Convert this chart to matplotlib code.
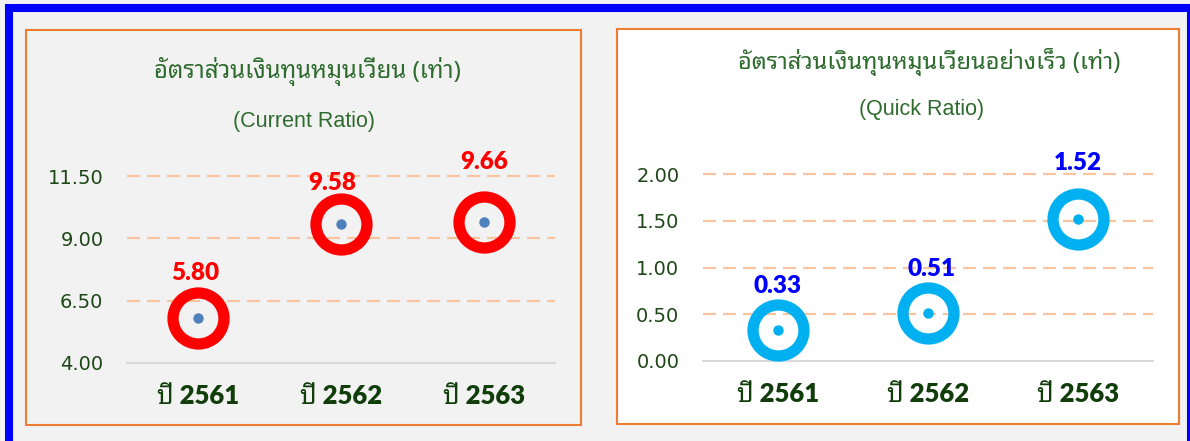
import matplotlib
matplotlib.use('Agg')
import matplotlib.pyplot as plt
from matplotlib.patches import Rectangle

# data
years = ['ปี 2561', 'ปี 2562', 'ปี 2563']
current_ratio = [5.80, 9.58, 9.66]
quick_ratio = [0.33, 0.51, 1.52]
current_ticks = [4.00, 6.50, 9.00, 11.50]
quick_ticks = [0.00, 0.50, 1.00, 1.50, 2.00]
# label offsets (pixels) as placed in the original
current_off = [(-3, 45), (-9, 41), (0, 60)]
quick_off = [(0, 44), (4, 44), (0, 56)]

plt.rcParams['lines.scale_dashes'] = False
W, H = 1190, 441
fig = plt.figure(figsize=(W / 100, H / 100), dpi=100, facecolor='#f2f2f2')

def box(x0, y0, x1, y1, **kw):
    # pixel box (top-left origin) -> figure fraction
    r = Rectangle((x0 / W, 1 - y1 / H), (x1 - x0) / W, (y1 - y0) / H,
                  transform=fig.transFigure, zorder=-5, **kw)
    fig.patches.append(r)

box(9, 8, 1190.5, 443, fill=False, edgecolor='#0000ff', linewidth=5.8)
box(26, 30, 581, 425, facecolor='#f2f2f2', edgecolor='#ed7d31', linewidth=1.5)
box(617, 29, 1179, 424, facecolor='white', edgecolor='#ed7d31', linewidth=1.5)

thai = ['Noto Sans Thai Looped', 'Liberation Sans']
title_col = '#2e6b2e'
fig.text(307 / W, 1 - 72 / H, 'อัตราส่วนเงินทุนหมุนเวียน (เท่า)', family=thai,
         fontsize=17.3, color=title_col, ha='center', va='center')
fig.text(304 / W, 1 - 122 / H, '(Current Ratio)', family='Liberation Sans',
         fontsize=15.5, color=title_col, ha='center', va='center')
fig.text(929 / W, 1 - 62 / H, 'อัตราส่วนเงินทุนหมุนเวียนอย่างเร็ว (เท่า)', family=thai,
         fontsize=17, color=title_col, ha='center', va='center')
fig.text(922 / W, 1 - 110 / H, '(Quick Ratio)', family='Liberation Sans',
         fontsize=15.5, color=title_col, ha='center', va='center')

def panel(rect, vals, ticks, offs, ring, dot, lab):
    ax = fig.add_axes(rect)
    ax.set_facecolor('none')
    x = range(len(vals))
    ax.plot(x, vals, linestyle='none', marker='o', markersize=36.7,
            markerfacecolor='none', markeredgecolor=ring, markeredgewidth=8.1, zorder=3)
    ax.plot(x, vals, linestyle='none', marker='o', markersize=7.5,
            markerfacecolor=dot, markeredgecolor='none', zorder=4)
    for i, v in enumerate(vals):
        ax.annotate('%.2f' % v, (i, v), xytext=offs[i], textcoords='offset pixels',
                    ha='center', va='center', fontsize=17.5, fontweight='heavy',
                    family='Lato', color=lab)
    ax.set_xlim(-0.5, len(vals) - 0.5)
    ax.set_ylim(ticks[0], ticks[-1])
    ax.set_yticks(ticks)
    ax.set_yticklabels(['%.2f' % t for t in ticks])
    ax.set_xticks(list(x))
    ax.set_xticklabels(years)
    for s in ['top', 'right', 'left']:
        ax.spines[s].set_visible(False)
    ax.spines['bottom'].set_color('#d9d9d9')
    ax.spines['bottom'].set_linewidth(1.5)
    ax.tick_params(length=0)
    ax.tick_params(axis='y', pad=17, labelsize=14, labelcolor='#1d4716')
    ax.tick_params(axis='x', pad=15, labelsize=18.5, labelcolor='#113d0b')
    for t in ax.get_xticklabels():
        t.set_family(['Lato', 'Noto Sans Thai Looped'])
        t.set_fontweight('heavy')
    ax.grid(axis='y', color='#f8c59e', linewidth=1.6, linestyle=(0, (9.4, 5)))
    ax.grid(axis='x', visible=False)
    gl = ax.get_ygridlines()
    gl[0].set_visible(False)
    for g in gl:
        g.set_clip_on(False)
    ax.set_axisbelow(True)
    return ax

panel([127 / W, 1 - 363 / H, 428 / W, 187 / H], current_ratio, current_ticks,
      current_off, '#ff0000', '#4f81bd', '#ff0000')
panel([703 / W, 1 - 361 / H, 450 / W, 187 / H], quick_ratio, quick_ticks,
      quick_off, '#00b0f0', '#00b0f0', '#0000ff')

fig.savefig('out.png', dpi=100, facecolor=fig.get_facecolor())
